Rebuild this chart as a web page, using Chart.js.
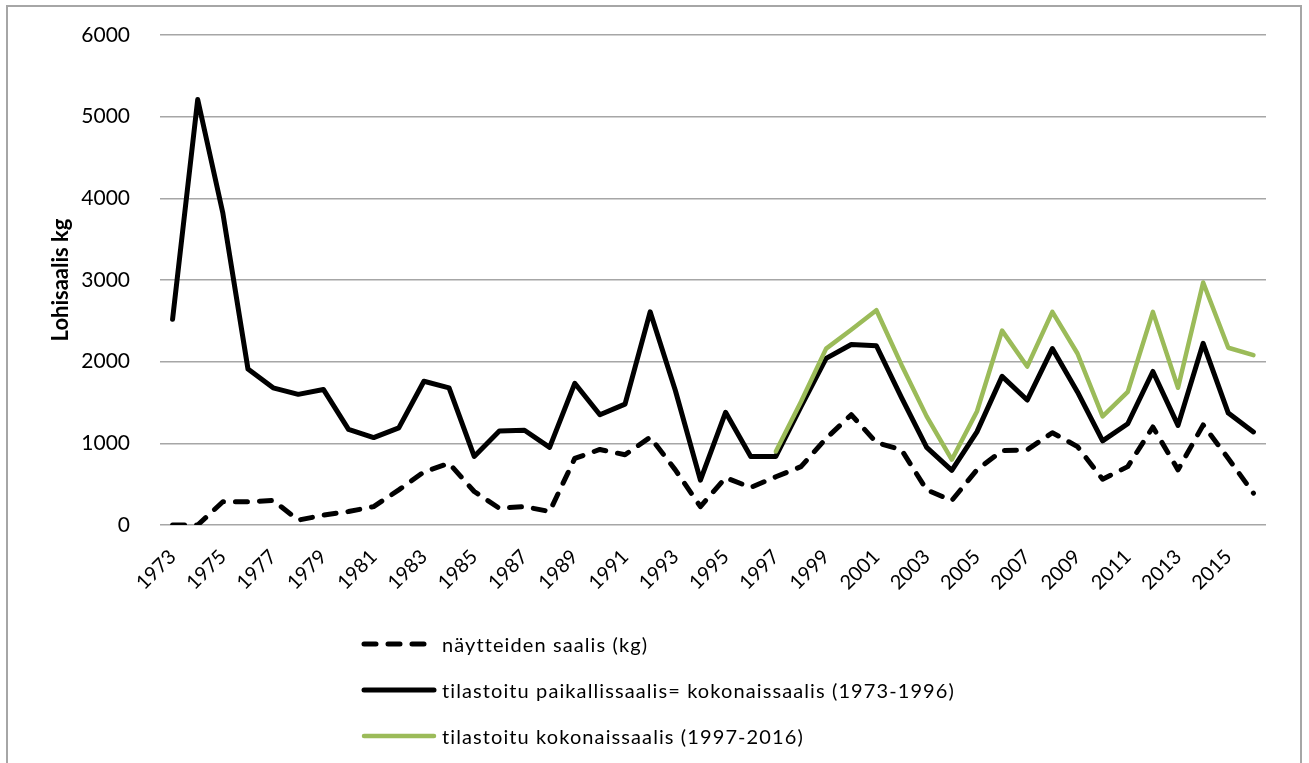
<!DOCTYPE html>
<html>
<head>
<meta charset="utf-8">
<script src="https://cdn.jsdelivr.net/npm/chart.js@4"></script>
<style>
  html, body { margin: 0; padding: 0; background: #fff; }
  #wrap { position: relative; width: 1309px; height: 763px; overflow: hidden; }
  #frame { position: absolute; left: 6px; top: 5px; width: 1296px; height: 820px; border: 2px solid #a6a6a6; box-sizing: border-box; }
  canvas { position: absolute; left: 0; top: 0; }
  #legend { position: absolute; left: 360px; top: 0; font-family: Lato, "Open Sans", sans-serif; font-size: 20px; letter-spacing: 1.1px; color: #000; }
  .row { position: absolute; left: 0; white-space: nowrap; display: flex; align-items: center; height: 30px; }
  .row svg { display: block; margin-right: 4px; }
</style>
</head>
<body>
<div id="wrap">
  <div id="frame"></div>
  <canvas id="c" width="1309" height="763"></canvas>
  <div id="legend"></div>
</div>
<script>
const years = [1973,1974,1975,1976,1977,1978,1979,1980,1981,1982,1983,1984,1985,1986,1987,1988,1989,1990,1991,1992,1993,1994,1995,1996,1997,1998,1999,2000,2001,2002,2003,2004,2005,2006,2007,2008,2009,2010,2011,2012,2013,2014,2015,2016];

const sampleCatch = [0,0,285,285,300,60,120,165,225,430,650,755,410,205,225,165,815,925,860,1075,675,225,580,460,590,715,1060,1350,1010,920,430,300,675,910,920,1130,960,560,715,1200,675,1225,815,390];

const localCatch = [2520,5210,3820,1910,1680,1600,1660,1170,1070,1190,1760,1680,840,1150,1160,950,1735,1350,1480,2610,1650,550,1380,840,840,1450,2040,2210,2195,1560,950,670,1140,1820,1530,2160,1630,1030,1240,1880,1220,2225,1370,1140];

const totalCatch = [null,null,null,null,null,null,null,null,null,null,null,null,null,null,null,null,null,null,null,null,null,null,null,null,900,1510,2160,2390,2630,1960,1330,800,1390,2380,1940,2610,2100,1330,1630,2610,1680,2970,2170,2080];

const seriesNames = ["näytteiden saalis (kg)", "tilastoitu paikallissaalis= kokonaissaalis (1973-1996)", "tilastoitu kokonaissaalis (1997-2016)"];
const yTicks = [0,1000,2000,3000,4000,5000,6000];
const yTitle = "Lohisaalis kg";

const GREEN = '#9bbb59';
const FONT = 'Lato, "Open Sans", sans-serif';

const chart = new Chart(document.getElementById('c'), {
  type: 'line',
  data: {
    labels: years.map(String),
    datasets: [
      { label: seriesNames[0], data: sampleCatch, borderColor: '#000', borderWidth: 5, borderDash: [12, 12], borderCapStyle: 'round', borderJoinStyle: 'round', pointRadius: 0, tension: 0, fill: false, order: 2 },
      { label: seriesNames[1], data: localCatch, borderColor: '#000', borderWidth: 5, borderCapStyle: 'round', borderJoinStyle: 'round', pointRadius: 0, tension: 0, fill: false, order: 1 },
      { label: seriesNames[2], data: totalCatch, borderColor: GREEN, borderWidth: 4.5, borderCapStyle: 'round', borderJoinStyle: 'round', pointRadius: 0, tension: 0, fill: false, spanGaps: false, order: 0 }
    ]
  },
  options: {
    responsive: false,
    animation: false,
    devicePixelRatio: 1,
    layout: { padding: { left: 0, top: 35, right: 43, bottom: 0 } },
    plugins: { legend: { display: false }, tooltip: { enabled: false } },
    scales: {
      x: {
        offset: true,
        grid: { display: false },
        border: { display: false },
        ticks: {
          autoSkip: false,
          minRotation: 45,
          maxRotation: 45,
          padding: 12,
          color: '#000',
          font: { family: FONT, size: 20 },
          callback: function(v, i) { return i % 2 === 0 ? String(years[i]) : ''; }
        },
        afterFit: function(s) { s.height = 763 - 525; s.paddingLeft = 0; s.paddingRight = 0; }
      },
      y: {
        min: yTicks[0],
        max: yTicks[yTicks.length - 1],
        afterBuildTicks: function(s) { s.ticks = yTicks.map(v => ({ value: v })); },
        grid: { color: '#a6a6a6', lineWidth: 1.5, drawTicks: false },
        border: { display: false },
        ticks: { padding: 30, color: '#000', font: { family: FONT, size: 21 }, callback: function(v) { return String(v); } },
        title: { display: true, text: yTitle, color: '#000', font: { family: FONT, size: 22, weight: 'bold' }, padding: { top: 48, bottom: 0 } },
        afterFit: function(s) { s.width = 160; s.paddingTop = 0; s.paddingBottom = 0; }
      }
    }
  }
});

// legend built from the chart's datasets
const leg = document.getElementById('legend');
const rowY = [644, 690, 736];
chart.data.datasets.forEach(function(ds, i) {
  const row = document.createElement('div');
  row.className = 'row';
  row.style.top = (rowY[i] - 15) + 'px';
  const dash = ds.borderDash ? ds.borderDash.join(',') : 'none';
  row.innerHTML = '<svg width="78" height="10"><line x1="4" y1="5" x2="74" y2="5" stroke="' + ds.borderColor + '" stroke-width="' + ds.borderWidth + '" stroke-linecap="round" stroke-dasharray="' + dash + '"/></svg>';
  const span = document.createElement('span');
  span.textContent = ds.label;
  row.appendChild(span);
  leg.appendChild(row);
});
</script>
</body>
</html>
